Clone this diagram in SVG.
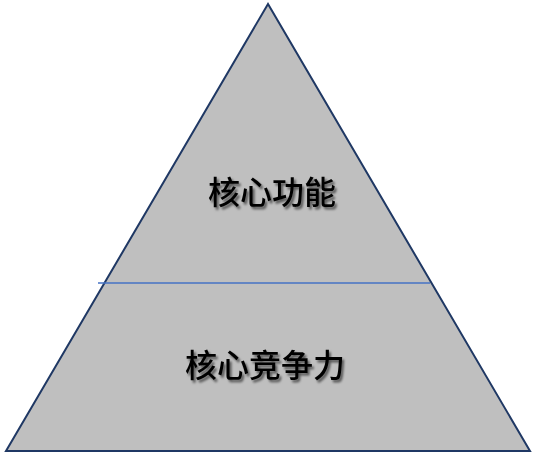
<svg xmlns="http://www.w3.org/2000/svg" width="537" height="459" viewBox="0 0 537 459">
<defs>
<filter id="sh" x="-20%" y="-40%" width="140%" height="180%">
<feDropShadow dx="2" dy="2.5" stdDeviation="1.3" flood-color="#000" flood-opacity="0.55"/>
</filter>
<style>
.lbl{font-family:"Noto Sans CJK SC","Noto Sans",sans-serif;font-size:32px;font-weight:500;fill:#000;text-anchor:middle;filter:url(#sh)}
</style>
</defs>
<rect width="537" height="459" fill="#fff"/>
<g id="pyramid">
<polygon points="268,4 6,451 530,451" fill="#bfbfbf" stroke="#1f3864" stroke-width="2" stroke-linejoin="miter"/>
</g>
<g id="connectors">
<line x1="98" y1="283" x2="430" y2="283" stroke="#4472c4" stroke-width="1.3"/>
</g>
<g id="node-top">
<text class="lbl" x="272" y="204">核心功能</text>
</g>
<g id="node-bottom">
<text class="lbl" x="265" y="377">核心竞争力</text>
</g>
</svg>
